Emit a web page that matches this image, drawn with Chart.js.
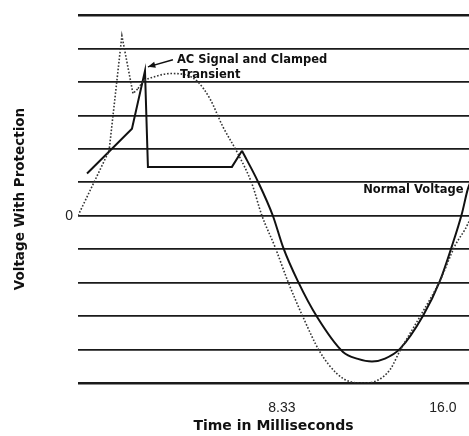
<!DOCTYPE html>
<html>
<head>
<meta charset="utf-8">
<script src="https://cdn.jsdelivr.net/npm/chart.js@4.4.1/dist/chart.umd.min.js"></script>
<style>
  html, body { margin: 0; padding: 0; background: #fff; }
  #wrap { width: 469px; height: 436px; position: relative; }
</style>
</head>
<body>
<div id="wrap"><canvas id="voltChart"></canvas></div>
<script>
// normal voltage (dotted) - time in ms, voltage in grid units
const timeNormal = [-1.38, 0.10, 0.71, 1.24, 1.48, 1.71, 2.29, 3.0, 3.71, 4.33, 4.90, 5.52, 6.24, 6.90, 7.38, 8.0, 8.62, 9.33, 10.14, 10.95, 11.57, 12.19, 12.86, 13.48, 13.95, 14.9, 15.86, 16.57, 17.19, 17.45];
const voltNormal = [0, 1.94, 5.38, 3.65, 3.8, 4.0, 4.16, 4.25, 4.22, 4.0, 3.5, 2.66, 1.85, 0.96, 0, -0.93, -1.97, -3.02, -4.07, -4.72, -4.96, -5.0, -4.93, -4.6, -4.04, -3.02, -1.94, -0.9, -0.24, 0.2];
const normalSpikeEnd = 4; // points before this index are straight segments (transient spike)

// AC signal with clamped transient (solid)
const timeClamped = [-0.95, 0.14, 1.19, 1.81, 1.95, 5.95, 6.43, 7.19, 7.90, 8.38, 9.10, 10.0, 11.24, 11.95, 12.62, 13.24, 13.95, 15.05, 15.86, 16.43, 16.9, 17.19, 17.45];
const voltClamped = [1.26, 1.94, 2.6, 4.33, 1.46, 1.46, 1.94, 1.02, 0, -0.93, -1.97, -3.02, -4.07, -4.28, -4.36, -4.27, -3.98, -2.99, -1.94, -0.9, 0.06, 0.81, 1.2];
const clampedKneeEnd = 6; // straight clamped part up to here, sine after

const xTickValues = [8.33, 16.0];
const xTickLabels = ["8.33", "16.0"];
const yTickValues = [0];
const yTickLabels = ["0"];

const notes = [
  { text: "AC Signal and Clamped", t: 3.33, v: 4.66 },
  { text: "Transient", t: 3.48, v: 4.22 },
  { text: "Normal Voltage", t: 12.2, v: 0.78 }
];
const arrowFrom = { t: 3.14, v: 4.66 };
const arrowTo = { t: 1.95, v: 4.45 };

const toPoints = (xs, ys, a, b) => xs.slice(a, b).map((x, i) => ({ x: x, y: ys.slice(a, b)[i] }));

const notesPlugin = {
  id: "notes",
  afterDatasetsDraw(chart) {
    const ctx = chart.ctx;
    const xs = chart.scales.x, ys = chart.scales.y;
    ctx.save();
    ctx.fillStyle = "#111";
    ctx.font = "bold 11.5px 'DejaVu Sans'";
    ctx.textBaseline = "middle";
    ctx.textAlign = "left";
    notes.forEach(n => {
      ctx.fillText(n.text, xs.getPixelForValue(n.t), ys.getPixelForValue(n.v));
    });
    // arrow
    const x1 = xs.getPixelForValue(arrowFrom.t), y1 = ys.getPixelForValue(arrowFrom.v);
    const x2 = xs.getPixelForValue(arrowTo.t), y2 = ys.getPixelForValue(arrowTo.v);
    ctx.strokeStyle = "#111";
    ctx.lineWidth = 1.5;
    ctx.beginPath();
    ctx.moveTo(x1, y1);
    ctx.lineTo(x2, y2);
    ctx.stroke();
    const a = Math.atan2(y2 - y1, x2 - x1);
    ctx.beginPath();
    ctx.moveTo(x2, y2);
    ctx.lineTo(x2 - 8 * Math.cos(a - 0.4), y2 - 8 * Math.sin(a - 0.4));
    ctx.lineTo(x2 - 8 * Math.cos(a + 0.4), y2 - 8 * Math.sin(a + 0.4));
    ctx.closePath();
    ctx.fill();
    ctx.restore();
  }
};

const dottedStyle = { borderColor: "#333", borderWidth: 1.6, borderDash: [1.6, 1.8], pointRadius: 0 };
const solidStyle = { borderColor: "#111", borderWidth: 2, pointRadius: 0 };

const chartCtx = document.getElementById("voltChart").getContext("2d");

new Chart(chartCtx, {
  type: "line",
  data: {
    datasets: [
      Object.assign({ label: "Normal Voltage (transient)", data: toPoints(timeNormal, voltNormal, 0, normalSpikeEnd + 1), tension: 0 }, dottedStyle),
      Object.assign({ label: "Normal Voltage", data: toPoints(timeNormal, voltNormal, normalSpikeEnd), cubicInterpolationMode: "monotone" }, dottedStyle),
      Object.assign({ label: "AC Signal and Clamped Transient", data: toPoints(timeClamped, voltClamped, 0, clampedKneeEnd + 1), tension: 0 }, solidStyle),
      Object.assign({ label: "AC Signal", data: toPoints(timeClamped, voltClamped, clampedKneeEnd), cubicInterpolationMode: "monotone" }, solidStyle)
    ]
  },
  options: {
    responsive: true,
    maintainAspectRatio: false,
    animation: false,
    layout: { padding: { top: 15, right: 0, left: 0, bottom: 0 } },
    plugins: { legend: { display: false }, tooltip: { enabled: false } },
    scales: {
      x: {
        type: "linear",
        min: -1.38,
        max: 17.24,
        grid: { display: false, drawTicks: false },
        border: { display: false },
        afterBuildTicks: axis => { axis.ticks = xTickValues.map(v => ({ value: v })); },
        afterFit: axis => { axis.height = 53; axis.paddingLeft = 0; axis.paddingRight = 0; },
        ticks: {
          padding: 17,
          autoSkip: false,
          maxRotation: 0,
          color: "#222",
          font: { family: "Liberation Sans", size: 14 },
          callback: value => {
            const i = xTickValues.indexOf(value);
            return i >= 0 ? xTickLabels[i] : "";
          }
        },
        title: {
          display: true,
          text: "Time in Milliseconds",
          color: "#111",
          font: { family: "DejaVu Sans", size: 14, weight: "bold" },
          padding: { top: 0, bottom: 1 }
        }
      },
      y: {
        min: -5,
        max: 6,
        grid: {
          drawTicks: false,
          color: "#1a1a1a",
          lineWidth: c => (c.tick && (c.tick.value === 6 || c.tick.value === -5) ? 2.6 : 1.7)
        },
        border: { display: false },
        afterFit: axis => { axis.width = 78; },
        ticks: {
          stepSize: 1,
          padding: 5,
          color: "#222",
          font: { family: "Liberation Sans", size: 14 },
          callback: value => {
            const i = yTickValues.indexOf(value);
            return i >= 0 ? yTickLabels[i] : "";
          }
        },
        title: {
          display: true,
          text: "Voltage With Protection",
          color: "#111",
          font: { family: "DejaVu Sans", size: 13.5, weight: "bold" },
          padding: { top: 12, bottom: 0 }
        }
      }
    }
  },
  plugins: [notesPlugin]
});
</script>
</body>
</html>
